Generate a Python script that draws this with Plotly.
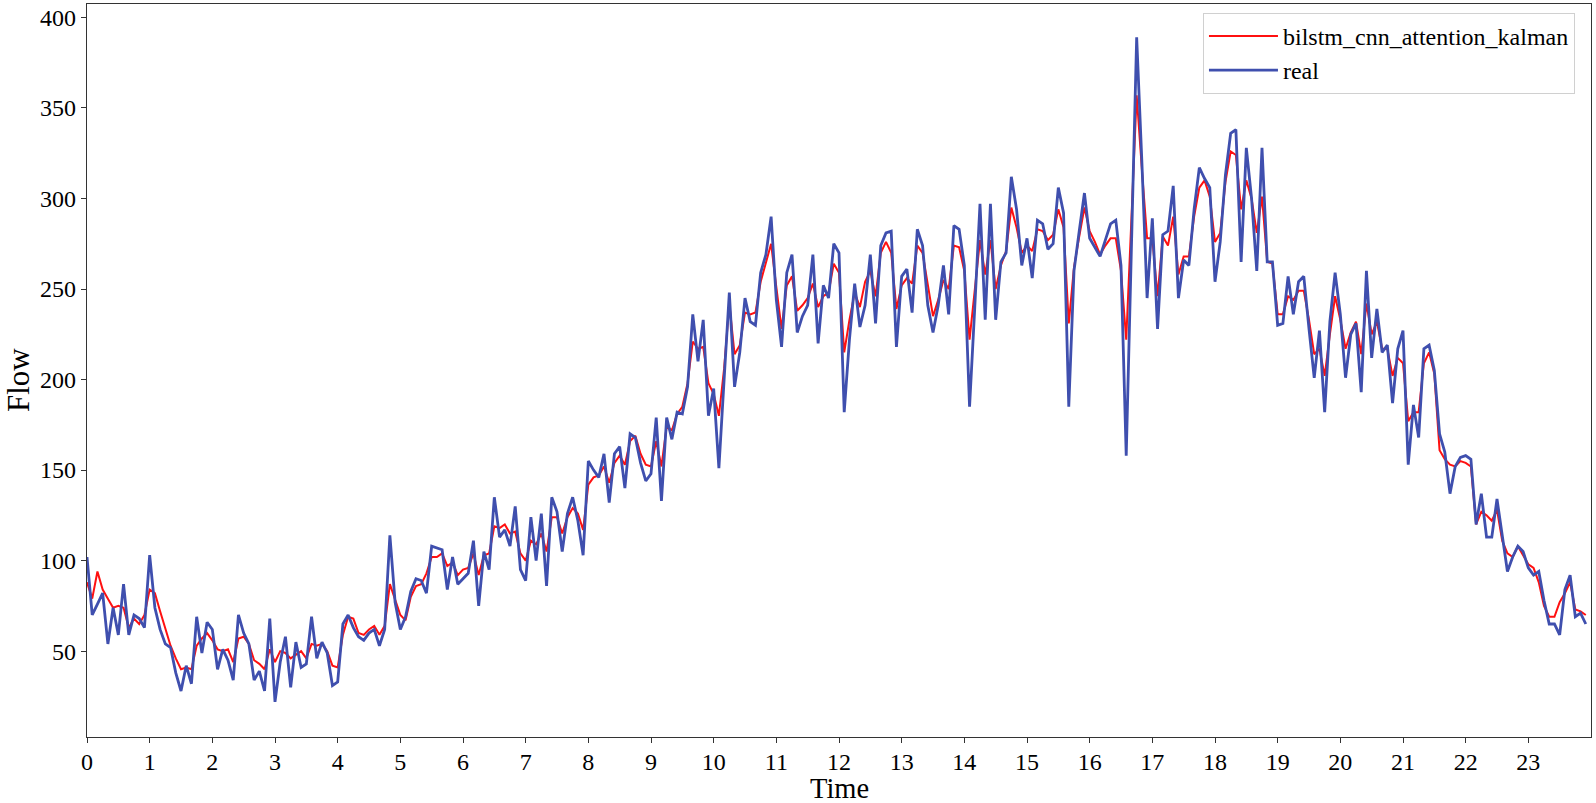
import numpy as np
import plotly.graph_objects as go

# 5-minute samples over one day (288 points), x in hours
n_points = 288
time_hours = np.arange(n_points) / 12.0

real = [
    102, 70, 76, 82, 54, 74, 59, 87, 59, 70, 68, 63,
    103, 74, 62, 54, 52, 38, 28, 42, 32, 69, 49, 66,
    62, 40, 51, 45, 34, 70, 60, 54, 34, 39, 28, 68,
    22, 44, 58, 30, 55, 41, 43, 69, 46, 55, 49, 31,
    33, 65, 70, 63, 58, 56, 60, 62, 53, 62, 114, 77,
    62, 69, 83, 90, 89, 82, 108, 107, 106, 84, 102, 87,
    90, 93, 111, 75, 105, 95, 135, 113, 117, 108, 130, 95,
    89, 124, 100, 126, 86, 135, 127, 105, 126, 135, 122, 103,
    155, 150, 146, 159, 132, 159, 163, 140, 170, 168, 154, 144,
    148, 179, 133, 179, 167, 182, 181, 196, 236, 210, 233, 180,
    195, 151, 200, 248, 196, 215, 245, 232, 230, 259, 269, 290,
    244, 218, 259, 269, 226, 235, 241, 269, 220, 252, 245, 275,
    270, 182, 222, 253, 229, 241, 269, 231, 274, 281, 282, 218,
    257, 261, 237, 283, 274, 241, 226, 241, 263, 236, 285, 283,
    263, 185, 240, 297, 233, 297, 233, 265, 270, 312, 294, 263,
    278, 256, 288, 286, 272, 275, 306, 292, 185, 260, 282, 303,
    278, 273, 268, 277, 286, 288, 263, 158, 273, 389, 320, 245,
    289, 228, 280, 282, 307, 245, 266, 263, 294, 317, 311, 306,
    254, 276, 313, 336, 338, 265, 328, 300, 260, 328, 265, 265,
    230, 231, 257, 236, 254, 257, 228, 201, 227, 182, 232, 259,
    236, 201, 225, 231, 193, 260, 212, 239, 215, 219, 187, 217,
    227, 153, 186, 168, 217, 219, 205, 170, 160, 137, 152, 157,
    158, 156, 120, 137, 113, 113, 134, 113, 94, 102, 108, 105,
    96, 92, 94, 78, 65, 65, 59, 84, 92, 69, 71, 65,
]

predicted = [
    88, 79, 94, 84, 79, 74, 75, 74, 63, 68, 65, 70,
    84, 82, 72, 62, 53, 46, 40, 41, 40, 53, 57, 60,
    56, 51, 50, 51, 44, 57, 58, 54, 45, 43, 40, 51,
    44, 50, 49, 46, 48, 50, 46, 54, 53, 54, 50, 42,
    41, 59, 69, 68, 60, 59, 62, 64, 59, 64, 87, 79,
    70, 67, 80, 86, 87, 93, 102, 102, 104, 97, 99, 92,
    95, 96, 104, 92, 103, 104, 119, 118, 120, 115, 116, 104,
    100, 111, 109, 115, 105, 124, 124, 115, 124, 129, 126, 117,
    142, 146, 147, 152, 143, 154, 158, 153, 166, 169, 159, 153,
    152, 166, 152, 174, 172, 181, 185, 198, 221, 217, 218, 198,
    192, 180, 206, 242, 214, 219, 237, 236, 237, 254, 264, 275,
    251, 228, 252, 257, 238, 241, 245, 253, 240, 246, 248, 264,
    259, 215, 233, 248, 240, 254, 260, 246, 270, 276, 270, 239,
    252, 256, 253, 274, 270, 253, 235, 244, 255, 250, 274, 273,
    260, 222, 249, 277, 258, 277, 250, 263, 271, 295, 284, 270,
    274, 271, 283, 282, 277, 280, 294, 284, 231, 262, 279, 295,
    282, 276, 269, 274, 278, 278, 260, 222, 289, 357, 316, 278,
    278, 246, 279, 274, 290, 258, 268, 268, 290, 306, 310, 301,
    276, 281, 309, 326, 324, 294, 310, 300, 281, 301, 265, 264,
    236, 236, 246, 244, 249, 249, 233, 214, 217, 202, 225, 246,
    233, 217, 226, 232, 214, 242, 225, 232, 217, 217, 202, 212,
    209, 177, 182, 182, 209, 215, 203, 161, 156, 153, 152, 155,
    154, 152, 120, 127, 125, 122, 128, 111, 104, 102, 108, 103,
    98, 96, 88, 75, 69, 69, 77, 82, 88, 73, 72, 70,
]

x_ticks = list(range(24))
y_ticks = [50, 100, 150, 200, 250, 300, 350, 400]

FONT = "Liberation Serif, Times New Roman, serif"

fig = go.Figure()
fig.add_trace(go.Scatter(
    x=time_hours, y=predicted, mode="lines",
    name="bilstm_cnn_attention_kalman",
    line=dict(color="#ff1010", width=2),
))
fig.add_trace(go.Scatter(
    x=time_hours, y=real, mode="lines",
    name="real",
    line=dict(color="#3f4fae", width=2.8),
))

axis_common = dict(
    showline=True, linecolor="#333333", linewidth=1.3, mirror=True,
    ticks="outside", ticklen=5, tickwidth=1.2, tickcolor="#333333",
    showgrid=False, zeroline=False, automargin=False,
    tickfont=dict(family=FONT, size=24, color="black"),
)

fig.update_layout(
    width=1596, height=803,
    margin=dict(l=87, r=5, t=4, b=66),
    paper_bgcolor="white", plot_bgcolor="white",
    font=dict(family=FONT, color="black"),
    showlegend=True,
    legend=dict(
        x=0.742, y=0.988, xanchor="left", yanchor="top",
        bgcolor="rgba(255,255,255,0.85)", bordercolor="#d0d0d0", borderwidth=1,
        font=dict(family=FONT, size=24, color="black"),
        tracegroupgap=0, itemwidth=69,
    ),
    xaxis=dict(
        range=[0, 24], tickmode="array", tickvals=x_ticks,
        ticktext=[str(t) for t in x_ticks], ticklabelstandoff=-2,
        **axis_common,
    ),
    yaxis=dict(
        range=[2.6, 407.4], tickmode="array", tickvals=y_ticks,
        ticktext=[str(t) for t in y_ticks],
        **axis_common,
    ),
    annotations=[
        dict(text="Time", xref="paper", yref="paper", x=0.5, y=0,
             xanchor="center", yanchor="middle", yshift=-51, showarrow=False,
             borderpad=0, font=dict(family=FONT, size=28.5, color="black")),
        dict(text="Flow", xref="paper", yref="paper", x=0, y=(737 - 380) / 733,
             xanchor="center", yanchor="middle", xshift=-69, textangle=-90,
             showarrow=False, font=dict(family=FONT, size=31, color="black")),
    ],
)

fig.write_html(
    "out.html",
    config={"displayModeBar": False},
    post_script="document.body.style.margin='0';document.body.style.overflow='hidden';",
)
